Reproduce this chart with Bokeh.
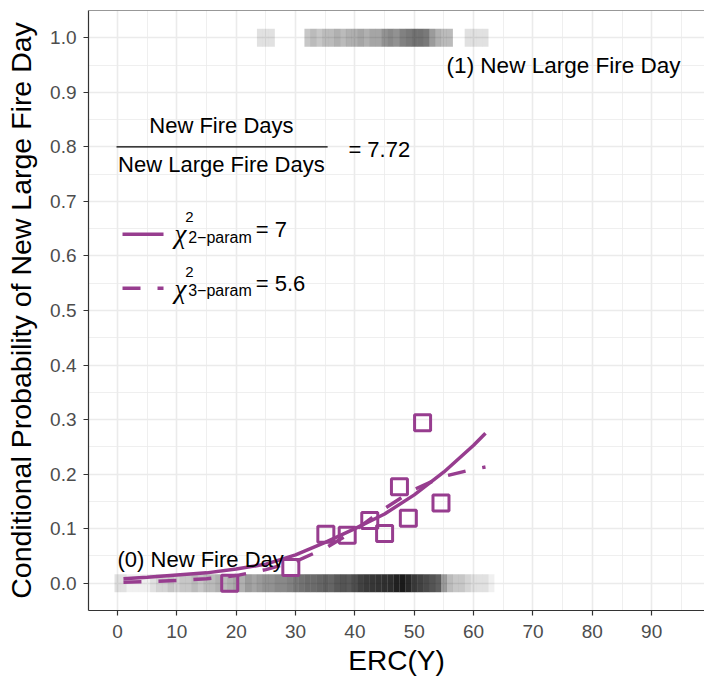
from bokeh.plotting import figure
from bokeh.models import (ColumnDataSource, FixedTicker, Label, Span, Range1d)
from bokeh.embed import file_html
from bokeh.resources import INLINE

# ---------------- data ----------------
x_ticks = [0, 10, 20, 30, 40, 50, 60, 70, 80, 90]
x_minor = [5, 15, 25, 35, 45, 55, 65, 75, 85, 95]
y_ticks = [0.0, 0.1, 0.2, 0.3, 0.4, 0.5, 0.6, 0.7, 0.8, 0.9, 1.0]
y_minor = [0.05, 0.15, 0.25, 0.35, 0.45, 0.55, 0.65, 0.75, 0.85, 0.95]
y_tick_labels = ["0.0", "0.1", "0.2", "0.3", "0.4", "0.5", "0.6", "0.7", "0.8", "0.9", "1.0"]

# binned observed conditional probabilities
erc_obs = [18.9, 29.2, 35.1, 38.7, 42.5, 45.0, 47.5, 49.0, 51.4, 54.5]
prob_obs = [0.0, 0.029, 0.090, 0.088, 0.115, 0.091, 0.177, 0.119, 0.294, 0.147]

# fitted curves
curve_erc = [1, 5, 10, 15, 20, 25, 30, 35, 40, 45, 50, 55, 60, 62]
fit_2param = [0.008, 0.011, 0.015, 0.019, 0.026, 0.035, 0.052, 0.075, 0.100,
              0.127, 0.162, 0.204, 0.253, 0.275]
fit_3param = [0.002, 0.003, 0.005, 0.008, 0.014, 0.025, 0.040, 0.064, 0.097,
              0.137, 0.172, 0.196, 0.209, 0.213]

# new fire days (outcome 0): count per ERC value
fire_erc = list(range(0, 64))
fire_counts = [2, 2, 1, 1, 1, 1, 2, 3, 3, 4, 3, 4, 4, 5, 4, 5, 5, 6, 5, 6,
               7, 6, 8, 7, 8, 9, 9, 10, 10, 11, 12, 13, 14, 14, 15, 16, 15, 17, 18, 17,
               19, 22, 24, 25, 26, 27, 28, 33, 37, 30, 24, 22, 20, 18, 16, 8, 5, 4, 4, 3,
               2, 2, 2, 1]
# new large fire days (outcome 1): count per ERC value
large_erc = [24, 25, 26, 32, 33, 34, 35, 36, 37, 38, 39, 40, 41, 42, 43, 44, 45,
             46, 47, 48, 49, 50, 51, 52, 53, 54, 55, 56, 59, 60, 61, 62]
large_counts = [2, 2, 2, 4, 5, 4, 5, 5, 6, 5, 6, 6, 7, 6, 7, 7, 9,
                10, 9, 11, 12, 13, 13, 12, 8, 6, 5, 5, 2, 2, 2, 2]

# ---------------- styling ----------------
PURPLE = "#973D8F"
FONT = "Liberation Sans"
point_alpha = 0.06

p = figure(frame_width=616, frame_height=600,
           x_range=Range1d(-4.89, 98.9), y_range=Range1d(-0.05, 1.05),
           output_backend="svg", toolbar_location=None,
           min_border_left=88, min_border_right=0, min_border_top=10, min_border_bottom=67,
           background_fill_color="white", border_fill_color="white")
p.outline_line_color = None

# grid
for g in (p.xgrid, p.ygrid):
    g.grid_line_color = "#EBEBEB"
    g.grid_line_width = 1.6
    g.minor_grid_line_color = "#EBEBEB"
    g.minor_grid_line_width = 0.8
p.xaxis.ticker = FixedTicker(ticks=x_ticks, minor_ticks=x_minor)
p.yaxis.ticker = FixedTicker(ticks=y_ticks, minor_ticks=y_minor)
p.xgrid.ticker = p.xaxis.ticker
p.ygrid.ticker = p.yaxis.ticker
p.yaxis.major_label_overrides = {t: s for t, s in zip(y_ticks, y_tick_labels)}

for ax in (p.xaxis, p.yaxis):
    ax.axis_line_color = "#333333"
    ax.axis_line_width = 1.2
    ax.major_tick_line_color = "#333333"
    ax.major_tick_line_width = 1.2
    ax.major_tick_out = 5
    ax.major_tick_in = 0
    ax.minor_tick_line_color = None
    ax.major_label_text_font = FONT
    ax.major_label_text_font_size = "19px"
    ax.major_label_text_color = "#4D4D4D"
    ax.axis_label_text_font = FONT
    ax.axis_label_text_font_style = "normal"
    ax.axis_label_text_color = "black"

p.xaxis.major_label_standoff = 9
p.xaxis.axis_label = "ERC(Y)"
p.xaxis.axis_label_text_font_size = "28px"
p.xaxis.axis_label_standoff = 4

p.yaxis.major_label_standoff = 7
p.yaxis.axis_label = "Conditional Probability of New Large Fire Day"
p.yaxis.axis_label_text_font_size = "28.5px"
p.yaxis.axis_label_standoff = 10

# top border of the panel
p.add_layout(Span(location=1.05, dimension="width", line_color="#333333", line_width=1.2))

# rug bands (translucent squares of fire days)
fire_src = ColumnDataSource(dict(
    x=fire_erc, y=[0.0] * len(fire_erc),
    a=[1 - (1 - point_alpha) ** n for n in fire_counts]))
large_src = ColumnDataSource(dict(
    x=large_erc, y=[1.0] * len(large_erc),
    a=[1 - (1 - point_alpha) ** n for n in large_counts]))
for src in (fire_src, large_src):
    p.rect(x="x", y="y", width=1.02, height=18, height_units="screen",
           fill_color="black", fill_alpha="a", line_color=None, source=src)

# fitted curves
p.line(curve_erc, fit_2param, line_color=PURPLE, line_width=3.5)
p.line(curve_erc, fit_3param, line_color=PURPLE, line_width=3.5, line_dash="18 17")

# observed points
p.scatter(erc_obs, prob_obs, marker="square", size=16, fill_color=None,
          line_color=PURPLE, line_width=3)

# annotations
def lab(x, y, text, size="22px", align="left", font=FONT, style="normal", color="black"):
    p.add_layout(Label(x=x, y=y, text=text, text_font=font, text_font_size=size,
                       text_font_style=style, text_align=align, text_baseline="middle",
                       text_color=color))

lab(55.45, 0.949, "(1) New Large Fire Day", size="22.5px")
lab(0.0, 0.044, "(0) New Fire Day")
lab(17.5, 0.839, "New Fire Days", align="center")
lab(17.5, 0.767, "New Large Fire Days", align="center")
lab(38.9, 0.796, "= 7.72")
p.line([-0.17, 35.4], [0.8, 0.8], line_color="black", line_width=1.3)

# legend-like chi-square annotation
p.line([0.84, 7.75], [0.640, 0.640], line_color=PURPLE, line_width=3.5)
p.line([0.84, 7.75], [0.541, 0.541], line_color=PURPLE, line_width=3.5, line_dash="18 17")
lab(9.6, 0.641, "χ", size="27px", font="Liberation Serif", style="italic")
lab(11.4, 0.672, "2", size="15px")
lab(11.9, 0.633, "2−param", size="16px")
lab(23.3, 0.648, "= 7")
lab(9.6, 0.540, "χ", size="27px", font="Liberation Serif", style="italic")
lab(11.4, 0.571, "2", size="15px")
lab(11.9, 0.536, "3−param", size="16px")
lab(23.3, 0.550, "= 5.6")

open("out.html", "w").write(file_html(p, INLINE))
